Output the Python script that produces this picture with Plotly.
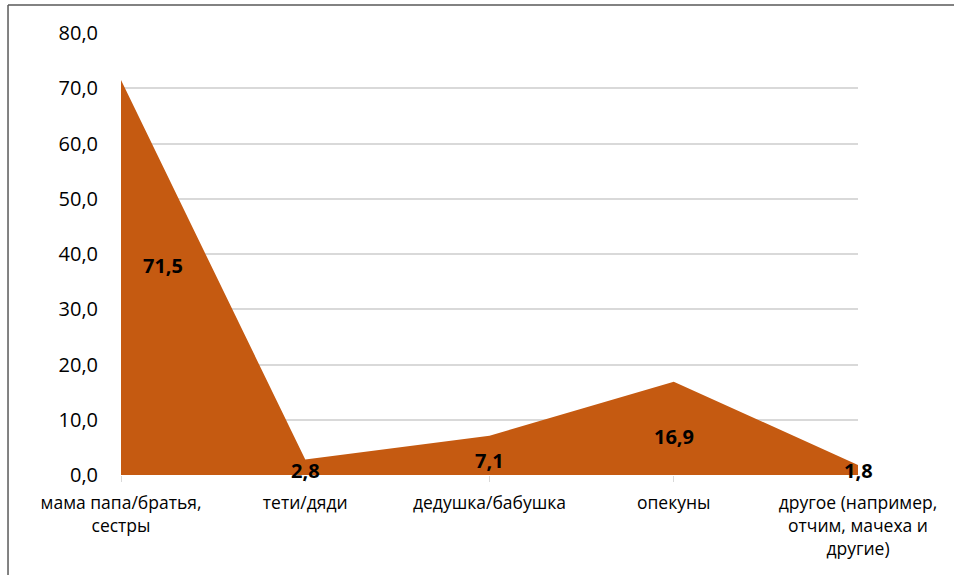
import plotly.graph_objects as go

# données
categories = ["мама папа/братья,<br>сестры", "тети/дяди", "дедушка/бабушка",
              "опекуны", "другое (например,<br>отчим, мачеха и<br>другие)"]
values = [71.5, 2.8, 7.1, 16.9, 1.8]
value_labels = ["71,5", "2,8", "7,1", "16,9", "1,8"]
y_ticks = [0, 10, 20, 30, 40, 50, 60, 70, 80]
y_tick_labels = ["0,0", "10,0", "20,0", "30,0", "40,0", "50,0", "60,0", "70,0", "80,0"]

x_pos = list(range(len(categories)))
font_family = "Open Sans, sans-serif"

fig = go.Figure()
fig.add_trace(go.Scatter(
    x=x_pos, y=values, mode="lines", fill="tozeroy",
    fillcolor="#C55A11", line=dict(width=0, color="#C55A11"),
    hoverinfo="skip", showlegend=False,
))

# étiquettes de données (placées dans la zone, comme Excel)
label_y = [38, 0.9, 2.7, 6.9, 0.9]
label_shift = [42, 0, 0, 0, 0]
for x, y, txt, sh in zip(x_pos, label_y, value_labels, label_shift):
    fig.add_annotation(x=x, y=y, text="<b>" + txt + "</b>", showarrow=False,
                       xshift=sh, font=dict(family=font_family, size=20, color="black"))

# cadre du graphique (bord gauche et haut)
fig.add_shape(type="line", xref="paper", yref="paper", x0=-0.1533, x1=1.2,
              y0=1.0633, y1=1.0633, line=dict(color="#595959", width=1.5))
fig.add_shape(type="line", xref="paper", yref="paper", x0=-0.1533, x1=-0.1533,
              y0=-0.3, y1=1.0633, line=dict(color="#595959", width=1.5))

fig.update_layout(
    width=954, height=575,
    margin=dict(l=121, r=96, t=33, b=100),
    plot_bgcolor="white", paper_bgcolor="white",
    font=dict(family=font_family, size=17, color="black"),
    xaxis=dict(
        range=[0, 4], tickmode="array", tickvals=x_pos, ticktext=categories,
        showgrid=False, zeroline=False, showline=False, automargin=False,
        ticks="outside", ticklen=6, tickcolor="#d9d9d9", ticklabelstandoff=6,
        tickfont=dict(family=font_family, size=17.5),
    ),
    yaxis=dict(
        range=[0, 80], tickmode="array", tickvals=y_ticks, ticktext=y_tick_labels,
        showgrid=True, gridcolor="#d9d9d9", gridwidth=1.5, automargin=False,
        zeroline=False, showline=False, ticks="", ticklabelstandoff=22,
        tickfont=dict(family=font_family, size=20),
    ),
)

# supprimer la marge par défaut du body pour caler la figure en haut à gauche
fig.write_html("out.html", config={"displayModeBar": False},
               post_script="document.body.style.margin='0';")
